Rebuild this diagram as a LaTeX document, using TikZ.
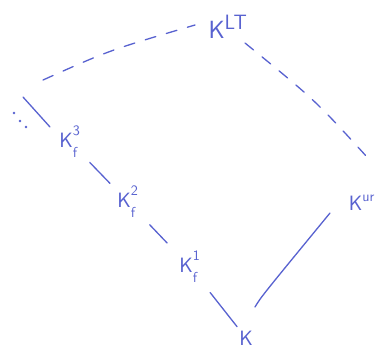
\documentclass[tikz,border=0pt]{standalone}
\usetikzlibrary{calc}
\definecolor{ink}{RGB}{88,98,208}
% a field of the tower: K with lower index f and upper index #1, kept well apart
\newcommand\towerfield[1]{\mathsf{K}^{\raisebox{4pt}{$\scriptstyle\mathsf{#1}$}}_{\raisebox{-5pt}{$\scriptstyle\mathsf{f}$}}}
\begin{document}
\begin{tikzpicture}[x=1pt,y=-1pt,
  field/.style={text=ink,inner sep=0pt,font=\fontsize{22}{22}\selectfont},
  bigfield/.style={text=ink,inner sep=0pt,font=\fontsize{28}{28}\selectfont},
  link/.style={draw=ink,line width=1.3pt,line cap=round},
  dashlink/.style={link,dash pattern=on 11pt off 11pt}]
\useasboundingbox (0,0) rectangle (392,349);
\fill[white] (0,0) rectangle (392,349);

% the fields of the tower
\node[bigfield] (klt) at (228,27) {$\mathsf{K}^{\mathsf{LT}}$};
\node[field] (k3)  at (70,142)  {$\towerfield{3}$};
\node[field] (k2)  at (128,202) {$\towerfield{2}$};
\node[field] (k1)  at (190,267) {$\towerfield{1}$};
\node[field] (k)   at (246,338) {$\mathsf{K}$};
\node[field] (kur) at (362,203) {$\mathsf{K}^{\raisebox{2pt}{$\mathsf{\scriptstyle ur}$}}$};

% continuation of the tower
\coordinate (top) at (23,97);
\coordinate (far) at (43,80);
\foreach \p in {(14,113),(20,121),(26,127)}
  \fill[ink] \p circle (1.3pt);

% inclusions
\draw[link] (top) -- ($(k3)+(-20,-15)$);
\draw[link] ($(k3)!0.34!(k2)$) -- ($(k3)!0.69!(k2)$);
\draw[link] ($(k2)!0.35!(k1)$) -- ($(k2)!0.63!(k1)$);
\draw[link] ($(k1)!0.36!(k)$) -- ($(k1)!0.84!(k)$);
\draw[link] ($(k)+(9,-31)$) .. controls ($(k)+(15,-41)$) .. ($(kur)+(-32,10)$);

% dashed sides up to the Lubin--Tate field
\draw[dashlink] (far) .. controls (110,50) .. ($(klt)+(-33,-2)$);
\draw[dashlink] ($(klt)+(17,16)$) .. controls (315,100) .. ($(kur)+(5,-46)$);
\end{tikzpicture}
\end{document}
